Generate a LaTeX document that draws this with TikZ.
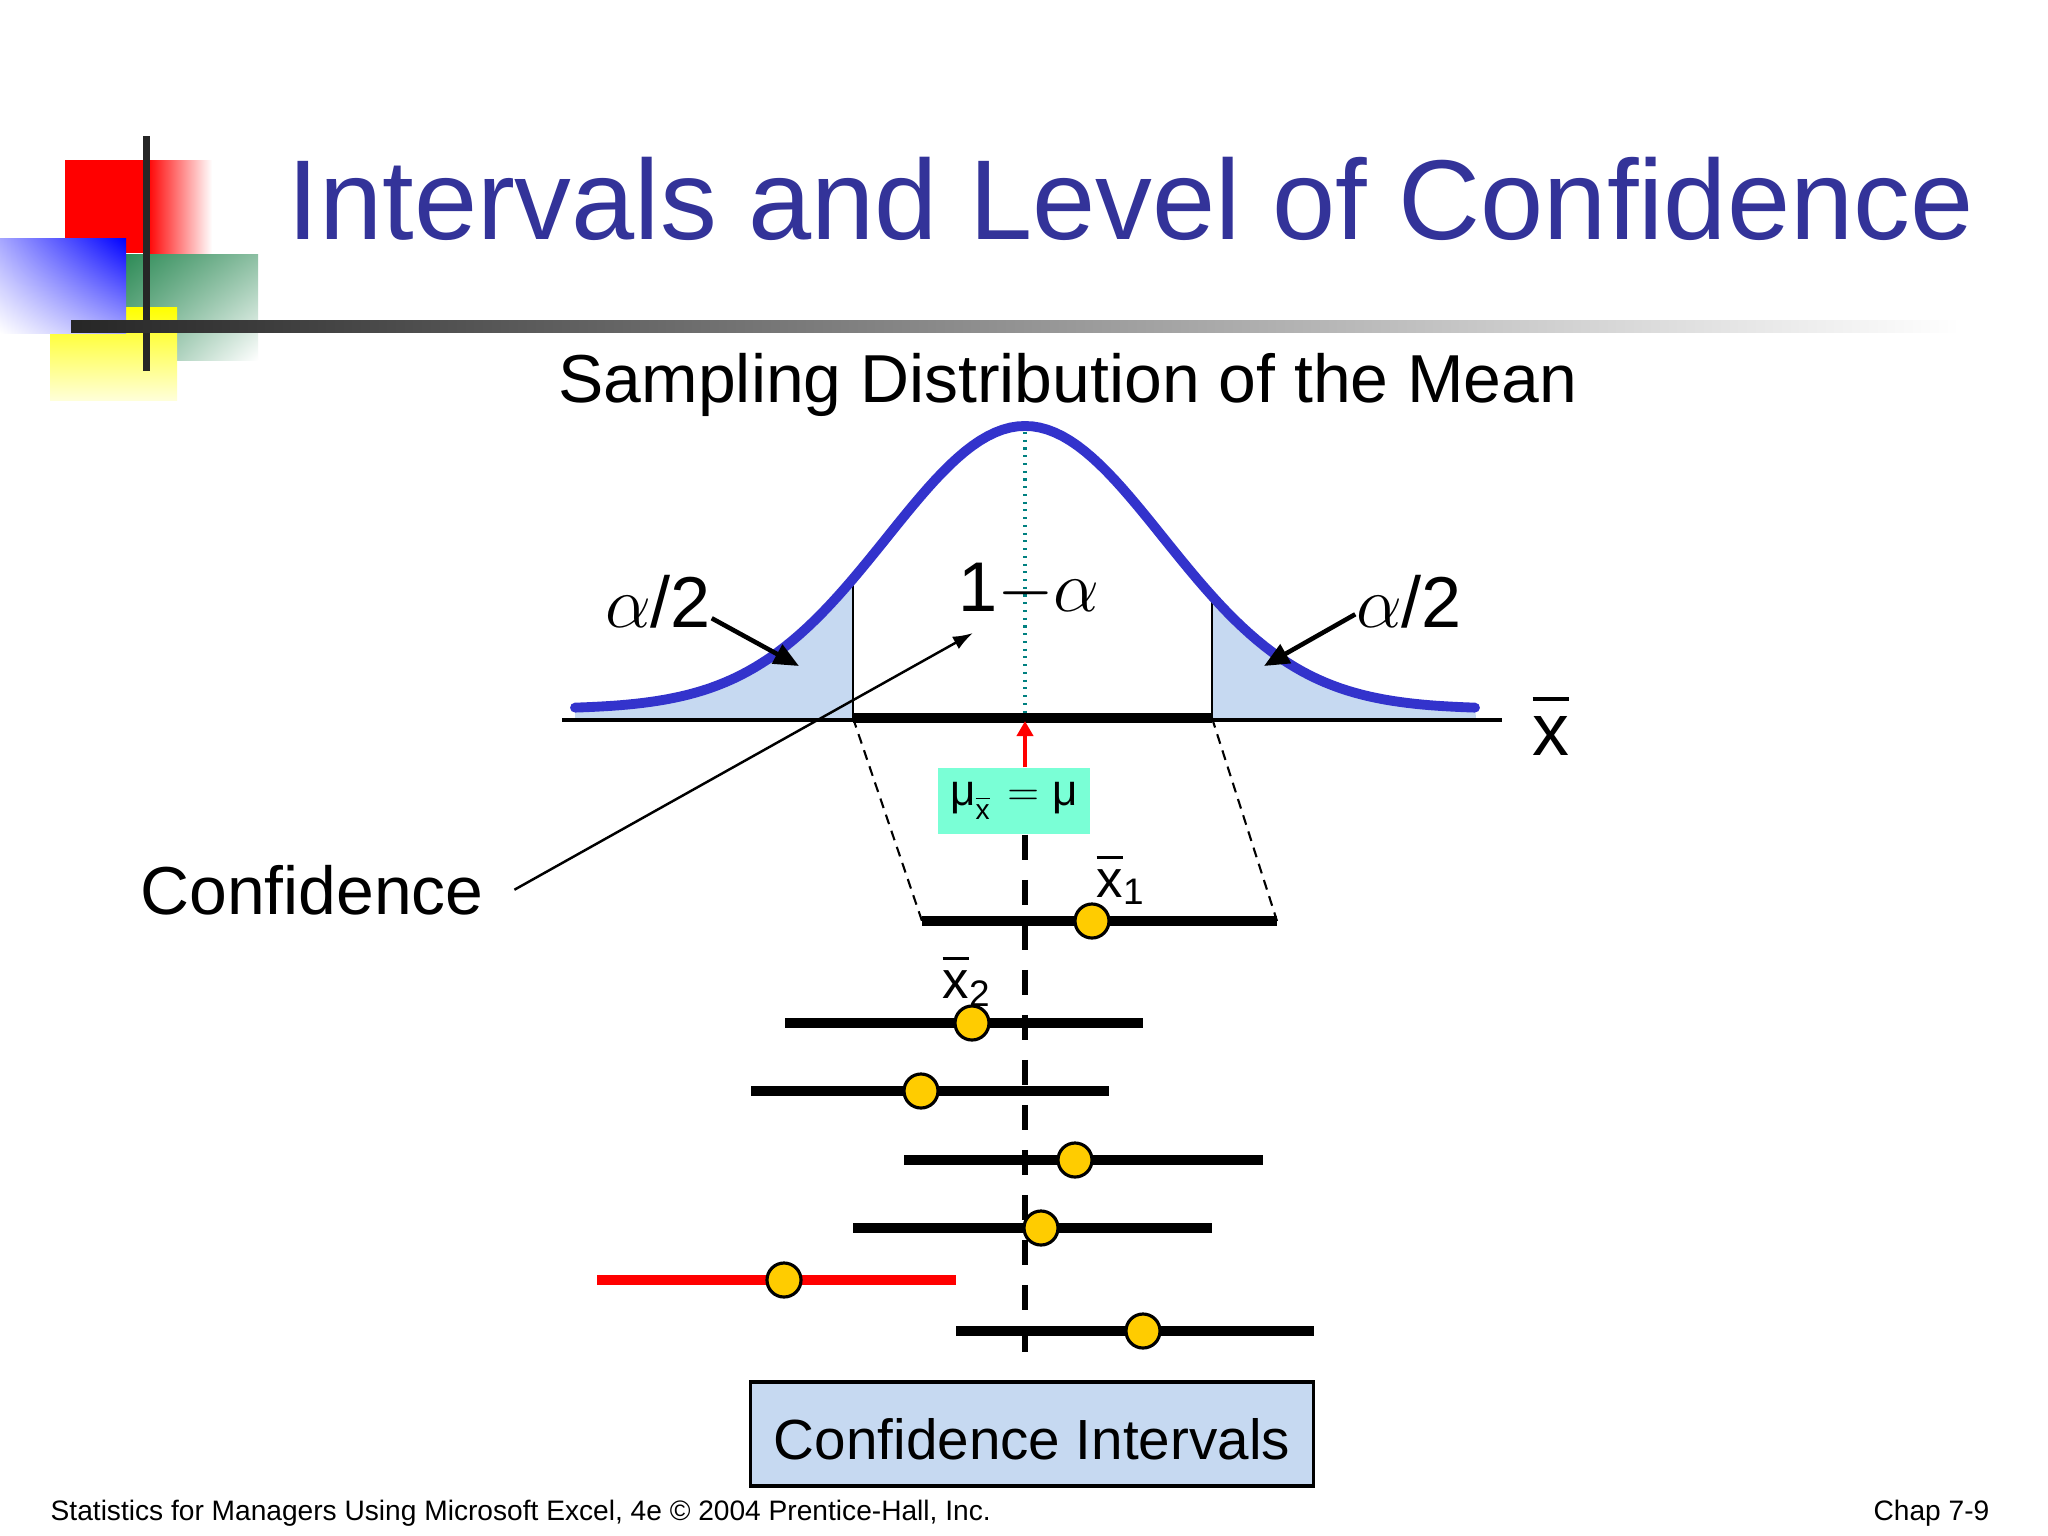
\documentclass[tikz,border=0pt]{standalone}
\usepackage{fontspec}
\setmainfont{Liberation Sans}
\usetikzlibrary{positioning,arrows.meta,shadings}
\definecolor{titleblue}{RGB}{51,51,153}
\definecolor{curveblue}{RGB}{51,51,204}
\definecolor{tailblue}{RGB}{198,217,241}
\definecolor{muboxgreen}{RGB}{122,255,214}
\definecolor{dotgold}{RGB}{255,204,0}
\definecolor{logogreen}{RGB}{46,139,87}
\definecolor{dotteal}{RGB}{0,128,128}
\newcommand{\ovx}{\leavevmode\vbox{\hrule height 0.055em\kern0.2em\hbox{x}}}

\begin{document}
\begin{tikzpicture}[x=0.01cm,y=-0.01cm,
  declare function={pdf(\d)=9+283*exp(-0.5*((\d)/138)^2);},
  interval/.style={line width=2.6pt},
  mean/.style={circle,draw,line width=0.9pt,fill=dotgold,minimum size=0.34cm,inner sep=0pt},
  tailarrow/.style={line width=1.3pt,-{Triangle[length=0.25cm,width=0.21cm]}},
  xlabel/.style={font=\fontsize{15}{16}\selectfont,inner sep=0pt,anchor=base west}]
\useasboundingbox (0,0) rectangle (2048,1536);
\fill[white] (0,0) rectangle (2048,1536);
% logo
\fill[red] (65,160) rectangle (147,253);
\shade[left color=red,right color=white] (147,160) rectangle (212,253);
\shade[upper left=logogreen,lower left=logogreen!60,upper right=logogreen!55,lower right=white] (126,254) rectangle (258,360);
\shade[top color=yellow,bottom color=yellow!15] (50,307) rectangle (177,400);
\shade[upper right=blue,upper left=blue!35,lower right=blue!35,lower left=white] (0,238) rectangle (126,333);
\fill[black!85] (142.5,136) rectangle (149.5,371);
\shade[left color=black!85,right color=white] (71,320) rectangle (1960,332);
\node[anchor=base west,text=titleblue,font=\fontsize{32.3}{36}\selectfont,inner sep=0pt] (title) at (287,239) {Intervals and Level of Confidence};
\node[anchor=base,font=\fontsize{19.3}{22}\selectfont,inner sep=0pt] (subtitle) at (1068,402) {Sampling Distribution of the Mean};
% sampling distribution
\fill[tailblue] (575,718) -- plot[domain=-450:-172,samples=40] ({1025+\x},{718-pdf(\x)}) -- (853,718) -- cycle;
\fill[tailblue] (1212,718) -- plot[domain=187:450,samples=40] ({1025+\x},{718-pdf(\x)}) -- (1476,718) -- cycle;
\coordinate (lb) at (853,718);
\coordinate (lt) at (853,{718-pdf(-172)});
\coordinate (rb) at (1212,718);
\coordinate (rt) at (1212,{718-pdf(187)});
\draw[line width=0.7pt] (lb) -- (lt);
\draw[line width=0.7pt] (rb) -- (rt);
\coordinate (peak) at (1025,432);
\coordinate (mu) at (1025,721);
\draw[dotteal,line width=1pt,dash pattern=on 0.6pt off 1.6pt] (peak) -- (1025,714);
\draw[curveblue,line width=2.8pt,line cap=round] plot[domain=-450:450,samples=121] ({1025+\x},{718-pdf(\x)});
\draw[line width=0.9pt] (562,720) -- (1502,720);
\draw[line width=2.8pt] (lb) -- (rb);
\node[font=\fontsize{21}{24}\selectfont,anchor=base,inner sep=0pt] (xaxis) at (1551,755) {\ovx};
\node[font=\fontsize{20.5}{24}\selectfont,anchor=base,inner sep=0pt] (aleft) at (658,627) {$\alpha$/2};
\node[font=\fontsize{20.5}{24}\selectfont,anchor=base,inner sep=0pt] (aright) at (1409,627) {$\alpha$/2};
\node[font=\fontsize{20}{24}\selectfont,anchor=base,inner sep=0pt] (oneminus) at (1029,611) {1$-\alpha$};
\coordinate (ltail) at (799,666);
\coordinate (rtail) at (1264,666);
\coordinate (inner) at (973,633);
\draw[tailarrow] ([yshift=-0.17cm]aleft.east) -- (ltail);
\draw[tailarrow] ([yshift=-0.13cm]aright.west) -- (rtail);
\node[font=\fontsize{19.3}{22}\selectfont,anchor=base,inner sep=0pt] (conf) at (312,914) {Confidence};
\draw[line width=0.7pt,-{Latex[length=0.2cm,width=0.14cm]}] ([xshift=0.3cm]conf.east) -- (inner);
% mean
\node[fill=muboxgreen,minimum width=1.52cm,minimum height=0.66cm,inner sep=0pt,font=\fontsize{12.5}{14}\selectfont] (mubox) at (1014,801) {μ\raisebox{-0.6ex}{\fontsize{8}{8}\selectfont\ovx}\hspace{0.4em}$=$\hspace{0.3em}μ};
\draw[red,line width=1.4pt,-{Triangle[length=0.15cm,width=0.16cm]}] (mubox.north -| mu) -- (mu);
\coordinate (cibot) at (1025,1352);
\draw[line width=1.5pt,dash pattern=on 0.25cm off 0.2cm] (mubox.south -| mu) -- (cibot);
% intervals
\coordinate (l1) at (922,921); \coordinate (r1) at (1277,921);
\coordinate (l2) at (785,1023); \coordinate (r2) at (1143,1023);
\coordinate (l3) at (751,1091); \coordinate (r3) at (1109,1091);
\coordinate (l4) at (904,1160); \coordinate (r4) at (1263,1160);
\coordinate (l5) at (853,1228); \coordinate (r5) at (1212,1228);
\coordinate (l6) at (597,1280); \coordinate (r6) at (956,1280);
\coordinate (l7) at (956,1331); \coordinate (r7) at (1314,1331);
\draw[dashed,line width=0.6pt,dash pattern=on 0.1cm off 0.07cm] (lb) -- (l1);
\draw[dashed,line width=0.6pt,dash pattern=on 0.1cm off 0.07cm] (rb) -- (r1);
\draw[interval] (l1) -- (r1);
\draw[interval] (l2) -- (r2);
\draw[interval] (l3) -- (r3);
\draw[interval] (l4) -- (r4);
\draw[interval] (l5) -- (r5);
\draw[interval,red] (l6) -- (r6);
\draw[interval] (l7) -- (r7);
\node[mean] (m1) at (1092,921) {};
\node[mean] (m2) at (972,1023) {};
\node[mean] (m3) at (921,1091) {};
\node[mean] (m4) at (1075,1160) {};
\node[mean] (m5) at (1041,1228) {};
\node[mean] (m6) at (784,1280) {};
\node[mean] (m7) at (1143,1331) {};
\node[xlabel] (x1) at (1096,897) {\ovx\textsubscript{1}};
\node[xlabel] (x2) at (942,998) {\ovx\textsubscript{2}};
\node[draw,fill=tailblue,line width=0.9pt,minimum width=5.63cm,minimum height=1.04cm,font=\fontsize{16.1}{18}\selectfont] (cibox) at (1032,1434) {\raisebox{-0.45em}[0pt][0pt]{Confidence Intervals}};
% footer
\node[anchor=base west,font=\fontsize{8}{9}\selectfont,inner sep=0pt] (foot) at (50,1520) {Statistics for Managers Using Microsoft Excel, 4e © 2004 Prentice-Hall, Inc.};
\node[anchor=base east,font=\fontsize{8}{9}\selectfont,inner sep=0pt] (chap) at (1990,1520) {Chap 7-9};
\end{tikzpicture}
\end{document}
